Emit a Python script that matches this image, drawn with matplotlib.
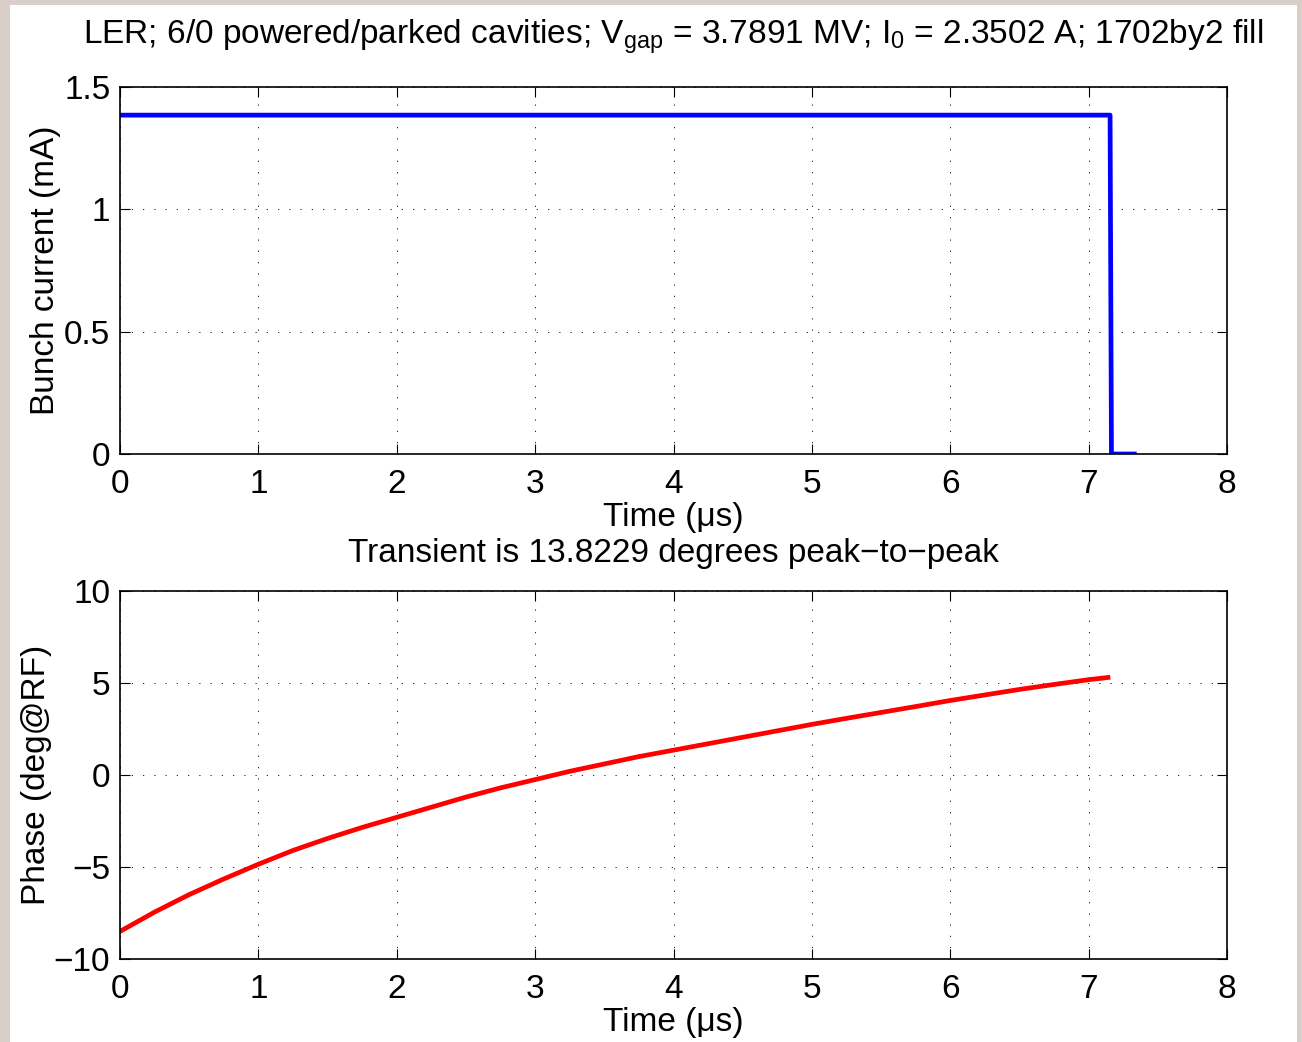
import numpy as np
import matplotlib.pyplot as plt
from matplotlib.patches import Rectangle

plt.rcParams['font.family'] = ['Liberation Sans', 'DejaVu Sans']
plt.rcParams['mathtext.fontset'] = 'custom'
plt.rcParams['mathtext.rm'] = 'Liberation Sans'
plt.rcParams['mathtext.it'] = 'Liberation Sans'

# bunch current (mA) vs time (us)
t_bunch = [0.0, 7.155, 7.165, 7.33]
i_bunch = [1.385, 1.385, 0.0, 0.0]

# phase transient (deg@RF) vs time (us)
t_phase = [0, 0.25, 0.5, 0.75, 1, 1.25, 1.5, 1.75, 2, 2.25, 2.5, 2.75, 3,
           3.25, 3.5, 3.75, 4, 4.25, 4.5, 4.75, 5, 5.25, 5.5, 5.75, 6,
           6.25, 6.5, 6.75, 7, 7.14]
phase = [-8.5, -7.45, -6.5, -5.65, -4.85, -4.1, -3.45, -2.85, -2.3, -1.75,
         -1.2, -0.7, -0.25, 0.2, 0.6, 1.0, 1.35, 1.7, 2.05, 2.4, 2.75,
         3.08, 3.4, 3.72, 4.05, 4.35, 4.65, 4.92, 5.18, 5.3]

title_top = (r"LER; 6/0 powered/parked cavities; V$_{\mathrm{gap}}$ = 3.7891 MV; "
             r"I$_{\mathrm{0}}$ = 2.3502 A; 1702by2 fill")
title_bot = "Transient is 13.8229 degrees peak\u2212to\u2212peak"

fs = 24
fig = plt.figure(figsize=(13.02, 10.42), dpi=100, facecolor='#d9cfc8')
fig.patches.append(Rectangle((10 / 1302, 0), 1287 / 1302, 1 - 5 / 1042,
                             transform=fig.transFigure, facecolor='white',
                             edgecolor='none', zorder=-1))

ax1 = fig.add_axes([120 / 1302, 1 - 454 / 1042, 1107 / 1302, 367 / 1042])
ax2 = fig.add_axes([120 / 1302, 1 - 959 / 1042, 1107 / 1302, 368 / 1042])

ax1.plot(t_bunch, i_bunch, color='#0000ff', lw=3.4)
ax1.set_xlim(0, 8)
ax1.set_ylim(0, 1.5)
ax1.set_yticks([0, 0.5, 1, 1.5])
ax1.set_yticklabels(['0', '0.5', '1', '1.5'])
ax1.set_ylabel('Bunch current (mA)', fontsize=fs, labelpad=2)
ax1.set_xlabel('Time (\u03bcs)', fontsize=fs, labelpad=1)
ax1.set_title(title_top, fontsize=fs, pad=31)

ax2.plot(t_phase, phase, color='#ff0000', lw=3.4)
ax2.set_xlim(0, 8)
ax2.set_ylim(-10, 10)
ax2.set_yticks([-10, -5, 0, 5, 10])
ax2.set_ylabel('Phase (deg@RF)', fontsize=fs, labelpad=1)
ax2.set_xlabel('Time (\u03bcs)', fontsize=fs, labelpad=1)
ax2.set_title(title_bot, fontsize=fs, pad=21)

for ax in (ax1, ax2):
    ax.set_xticks(range(0, 9))
    ax.tick_params(direction='in', length=7, width=0.8, labelsize=fs,
                   top=True, right=True)
    ax.tick_params(axis='x', pad=11)
    ax.tick_params(axis='y', pad=7)
    ax.grid(True, color='black', lw=0.6, linestyle=(0, (1.5, 12)))
    for s in ax.spines.values():
        s.set_linewidth(1.2)

fig.savefig('out.png', dpi=100, facecolor=fig.get_facecolor())
